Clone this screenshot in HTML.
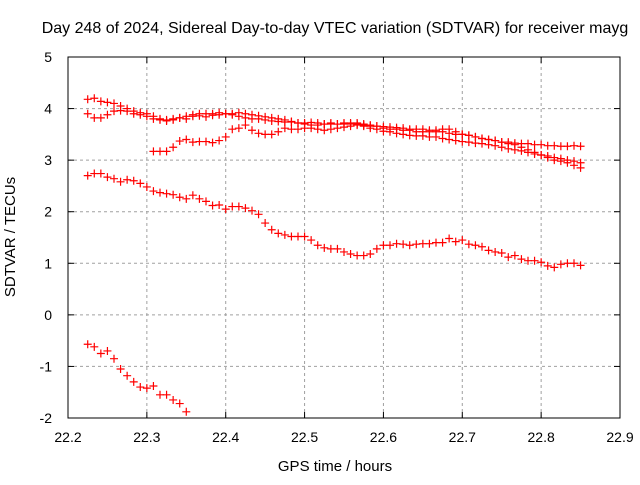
<!DOCTYPE html>
<html><head><meta charset="utf-8"><style>
body{margin:0;background:#fff}
svg{font-family:"Liberation Sans",sans-serif}
</style></head><body>
<svg id="chart" width="640" height="480" xmlns="http://www.w3.org/2000/svg">
<rect width="640" height="480" fill="#fff"/>
<g id="grid"></g>
<rect x="68" y="57" width="552" height="361" fill="none" stroke="#000" stroke-width="1"/>
<g id="ticks"></g>
<g id="marks"></g>
<text x="335" y="33" font-size="16" text-anchor="middle">Day 248 of 2024, Sidereal Day-to-day VTEC variation (SDTVAR) for receiver mayg</text>
<text x="335" y="471" font-size="15" text-anchor="middle">GPS time / hours</text>
<text transform="translate(15,237) rotate(-90)" font-size="15" text-anchor="middle">SDTVAR / TECUs</text>
</svg>
<script>
const xTicks=[22.2,22.3,22.4,22.5,22.6,22.7,22.8,22.9];
const yTicks=[-2,-1,0,1,2,3,4,5];
const xStart=22.225, xStep=1/120;
const seriesA=[4.18,4.2,4.14,4.12,4.1,4.05,4.0,3.95,3.92,3.9,3.85,3.8,3.78,3.8,3.82,3.85,3.88,3.9,3.9,3.9,3.92,3.9,3.88,3.85,3.82,3.8,3.8,3.78,3.76,3.75,3.74,3.74,3.72,3.72,3.73,3.72,3.7,3.7,3.7,3.72,3.72,3.7,3.68,3.66,3.66,3.65,3.64,3.63,3.62,3.6,3.6,3.6,3.58,3.55,3.55,3.52,3.5,3.5,3.48,3.45,3.42,3.4,3.38,3.35,3.32,3.3,3.25,3.2,3.15,3.1,3.05,3.0,2.98,2.95,2.9,2.85];
const seriesB=[3.9,3.82,3.82,3.88,3.95,3.96,3.95,3.9,3.88,3.85,3.8,3.78,3.76,3.78,3.82,3.8,3.85,3.86,3.84,3.87,3.88,3.9,3.9,3.92,3.9,3.88,3.86,3.84,3.82,3.8,3.78,3.75,3.72,3.7,3.68,3.68,3.7,3.72,3.7,3.7,3.7,3.72,3.7,3.68,3.66,3.62,3.6,3.6,3.58,3.58,3.55,3.55,3.55,3.58,3.6,3.6,3.55,3.5,3.48,3.45,3.42,3.4,3.38,3.35,3.35,3.33,3.32,3.32,3.3,3.3,3.28,3.28,3.27,3.27,3.28,3.27];
const seriesC=[3.17,3.17,3.17,3.25,3.37,3.4,3.35,3.36,3.36,3.34,3.38,3.45,3.6,3.62,3.68,3.58,3.52,3.5,3.5,3.55,3.62,3.6,3.6,3.62,3.62,3.6,3.58,3.6,3.62,3.64,3.66,3.68,3.66,3.62,3.6,3.56,3.55,3.52,3.5,3.48,3.47,3.47,3.45,3.45,3.42,3.4,3.38,3.36,3.35,3.33,3.32,3.3,3.28,3.25,3.22,3.2,3.18,3.15,3.12,3.1,3.08,3.05,3.03,3.0,2.98,2.95];
const seriesCStart=10;
const seriesD=[2.7,2.74,2.74,2.67,2.64,2.58,2.62,2.6,2.55,2.48,2.4,2.37,2.35,2.33,2.28,2.25,2.32,2.25,2.2,2.12,2.13,2.05,2.1,2.1,2.07,2.02,1.95,1.78,1.65,1.58,1.55,1.52,1.52,1.52,1.45,1.35,1.3,1.28,1.28,1.22,1.18,1.15,1.15,1.18,1.28,1.35,1.35,1.38,1.37,1.35,1.37,1.38,1.38,1.4,1.4,1.48,1.42,1.45,1.37,1.35,1.32,1.25,1.22,1.2,1.12,1.15,1.08,1.05,1.05,1.02,0.95,0.92,0.98,1.0,1.0,0.96];
const seriesE=[-0.57,-0.62,-0.75,-0.7,-0.85,-1.05,-1.18,-1.3,-1.4,-1.42,-1.38,-1.55,-1.55,-1.65,-1.72,-1.88];

const NS='http://www.w3.org/2000/svg';
const X0=68,X1=620,Y0=418,Y1=57;
function xs(v){return X0+(v-22.2)/(22.9-22.2)*(X1-X0);}
function ys(v){return Y0-(v+2)/7*(Y0-Y1);}
function mk(tag,attrs,parent){const e=document.createElementNS(NS,tag);for(const k in attrs)e.setAttribute(k,attrs[k]);parent.appendChild(e);return e;}
const grid=document.getElementById('grid'),ticks=document.getElementById('ticks'),marks=document.getElementById('marks');
xTicks.forEach((t,i)=>{
  const x=xs(t);
  if(i>0&&i<xTicks.length-1){const g=mk('line',{x1:x,x2:x,y1:Y0,y2:Y1,stroke:'#a0a0a0','stroke-dasharray':'3,3'},grid);
  
  }
  mk('line',{x1:x,x2:x,y1:Y0,y2:Y0-6,stroke:'#000'},ticks);
  mk('line',{x1:x,x2:x,y1:Y1,y2:Y1+6,stroke:'#000'},ticks);
  const l=mk('text',{x:x,y:Y0+24,'font-size':14,'text-anchor':'middle'},ticks);l.textContent=t.toFixed(1);
  
  
});
yTicks.forEach((t,i)=>{
  const y=ys(t);
  if(i>0&&i<yTicks.length-1){const g=mk('line',{x1:X0,x2:X1,y1:y,y2:y,stroke:'#a0a0a0','stroke-dasharray':'3,3'},grid);
  
  }
  mk('line',{x1:X0,x2:X0+6,y1:y,y2:y,stroke:'#000'},ticks);
  mk('line',{x1:X1,x2:X1-6,y1:y,y2:y,stroke:'#000'},ticks);
  const l=mk('text',{x:X0-16,y:y+5,'font-size':14,'text-anchor':'end'},ticks);l.textContent=String(t);
  
  
});
function plot(arr,start,color,name){
  arr.forEach((v,i)=>{
    const x=xs(xStart+(start+i)*xStep),y=ys(v);
    const p=mk('path',{d:`M${x-4},${y}H${x+4}M${x},${y-4}V${y+4}`,stroke:color,'stroke-width':1.2,fill:'none'},marks);
    
    
  });
}
plot(seriesA,0,'#ff0000','series-a');
plot(seriesB,0,'#ff0000','series-b');
plot(seriesC,seriesCStart,'#ff0000','series-c');
plot(seriesD,0,'#ff0000','series-d');
plot(seriesE,0,'#ff0000','series-e');
</script>
</body></html>
